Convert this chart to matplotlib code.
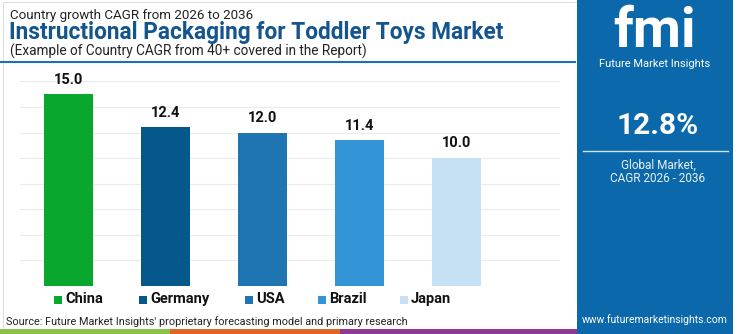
import matplotlib
matplotlib.use('Agg')
import matplotlib.pyplot as plt
from matplotlib.patches import Rectangle

plt.rcParams['font.family'] = ['Roboto', 'DejaVu Sans']

# データ
countries = ['China', 'Germany', 'USA', 'Brazil', 'Japan']
cagr = [15.0, 12.4, 12.0, 11.4, 10.0]
bar_colors = ['#0aa72f', '#05588c', '#1f75b2', '#3495d6', '#c6e1f3']
global_cagr = '12.8%'

TITLE_BLUE = '#14558f'
PANEL_BLUE = '#0b69ab'

W, H = 750, 334
fig = plt.figure(figsize=(W / 100, H / 100), dpi=100)


def px(x, y):
    # ピクセル座標 -> figure 座標
    return x / W, 1 - y / H


# 外枠
fig.patches.append(Rectangle(px(3, 329), 574 / W, 327 / H, transform=fig.transFigure,
                             facecolor='white', edgecolor='#dddddd', lw=0.8, zorder=-5))

# 棒グラフ
ax = fig.add_axes([20 / W, (H - 286) / H, 540 / W, 211 / H], zorder=2)
x = range(len(countries))
ax.bar(x, cagr, width=0.5, color=bar_colors, zorder=3)
for xi, v in zip(x, cagr):
    ax.text(xi, v + 0.6, f'{v:.1f}', ha='center', va='bottom', fontsize=10.5,
            fontweight='bold', color='#111111')
ax.set_xlim(-0.5, 5.07)
ax.set_ylim(0, 16.5)
ax.set_yticks(range(0, 17, 2))
ax.grid(axis='y', color='#ebebeb', lw=0.8, zorder=0)
ax.tick_params(left=False, bottom=False, labelleft=False, labelbottom=False)
for s in ax.spines.values():
    s.set_visible(False)
ax.set_facecolor('none')

# タイトル
fig.text(*px(10, 15), 'Country growth CAGR from 2026 to 2036', fontsize=9.6,
         color='#222222', va='center')
fig.text(*px(9, 33), 'Instructional Packaging for Toddler Toys Market', fontsize=16.3,
         fontweight='bold', color=TITLE_BLUE, va='center')
fig.text(*px(10, 51), '(Example of Country CAGR from 40+ covered in the Report)', fontsize=9.8,
         color='#222222', va='center')
fig.add_artist(plt.Line2D([0, 575 / W], [1 - 62 / H] * 2, color='#1f6fb0', lw=1.5))

# 凡例
legend_x = [54, 139, 245, 318, 400]
for lx, name, c in zip(legend_x, countries, bar_colors):
    fig.patches.append(Rectangle(px(lx, 304), 8 / W, 8 / H, transform=fig.transFigure,
                                 facecolor=c, edgecolor='none'))
    fig.text(*px(lx + 11, 299), name, fontsize=10.5, fontweight='bold',
             color='#111111', va='center')

fig.text(*px(6, 322), "Source: Future Market Insights' proprietary forecasting model and primary research",
         fontsize=7.8, color='#222222', va='center')

# 下部カラーバー
for x0, x1, c in [(0, 170, '#8cc24b'), (170, 340, '#e0652b'), (340, 577, '#8e3a96')]:
    fig.patches.append(Rectangle(px(x0, 334), (x1 - x0) / W, 5 / H, transform=fig.transFigure,
                                 facecolor=c, edgecolor='none'))

# 右パネル
fig.patches.append(Rectangle(px(577, 334), 156 / W, 1, transform=fig.transFigure,
                             facecolor=PANEL_BLUE, edgecolor='none'))
fig.text(*px(655, 32), 'fmi', fontsize=40, fontweight='bold', color='white',
         ha='center', va='center')
fig.text(*px(655, 64), 'Future Market Insights', fontsize=8, color='white',
         ha='center', va='center')
fig.text(*px(658, 126), global_cagr, fontsize=21.5, fontweight='bold', color='white',
         ha='center', va='center')
fig.add_artist(plt.Line2D([583 / W, 728 / W], [1 - 151 / H] * 2, color='#d0e3f2', lw=1))
fig.text(*px(658, 165), 'Global Market,', fontsize=8.5, color='#e8f1f8',
         ha='center', va='center')
fig.text(*px(658, 179), 'CAGR 2026 - 2036', fontsize=8.5, color='#e8f1f8',
         ha='center', va='center')
fig.text(*px(655, 320), 'www.futuremarketinsights.com', fontsize=7.5, color='white',
         ha='center', va='center')

fig.savefig('out.png', dpi=100)
